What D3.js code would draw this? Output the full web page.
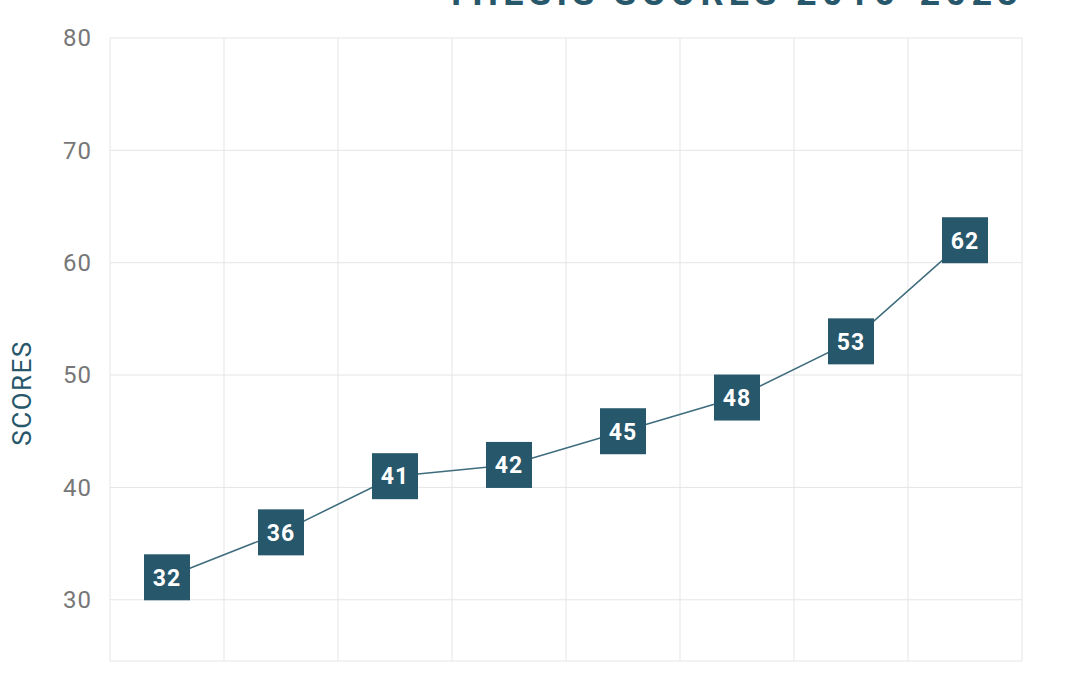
<!DOCTYPE html>
<html>
<head>
<meta charset="utf-8">
<script src="https://cdn.jsdelivr.net/npm/d3@7"></script>
<style>
  html, body { margin: 0; padding: 0; background: #ffffff; }
  svg { display: block; font-family: Roboto, "Noto Sans", sans-serif; }
</style>
</head>
<body>
<svg id="chart" width="1080" height="675"></svg>
<script>
const years = ["2016", "2017", "2018", "2019", "2020", "2021", "2022", "2023"];
const scores = [32, 36, 41, 42, 45, 48, 53, 62];
const yTicks = [30, 40, 50, 60, 70, 80];
const titleText = "THESIS SCORES 2016-2023";
const yLabel = "SCORES";

const W = 1080, H = 675;
const margin = { left: 110, right: 58, top: 38, bottom: 14 };
const svg = d3.select("#chart");

const x = d3.scaleBand().domain(years).range([margin.left, W - margin.right]).padding(0);
const y = d3.scaleLinear().domain([24.55, 80]).range([H - margin.bottom, margin.top]);

const main = "#27576b";
const grid = "#e5e5e5";

// grid: horizontal
svg.append("g")
  .selectAll("line")
  .data(yTicks)
  .join("line")
  .attr("x1", margin.left).attr("x2", W - margin.right)
  .attr("y1", d => y(d)).attr("y2", d => y(d))
  .attr("stroke", grid).attr("stroke-width", 1);

// bottom border
svg.append("line")
  .attr("x1", margin.left).attr("x2", W - margin.right)
  .attr("y1", y.range()[0]).attr("y2", y.range()[0])
  .attr("stroke", grid).attr("stroke-width", 1);

// grid: vertical (band edges)
const edges = years.map(d => x(d)).concat([x(years[years.length - 1]) + x.bandwidth()]);
svg.append("g")
  .selectAll("line")
  .data(edges)
  .join("line")
  .attr("x1", d => d).attr("x2", d => d)
  .attr("y1", y.range()[1]).attr("y2", y.range()[0])
  .attr("stroke", grid).attr("stroke-width", 1);

// y axis tick labels
const yAxis = d3.axisLeft(y).tickValues(yTicks).tickSize(0).tickPadding(18);
const gy = svg.append("g").attr("transform", `translate(${margin.left},0)`).call(yAxis);
gy.select(".domain").remove();
gy.selectAll("text")
  .attr("fill", "#777777")
  .style("font-size", "24px")
  .style("letter-spacing", "1px")
  .style("font-family", "Roboto, sans-serif");

// y axis title
svg.append("text")
  .attr("transform", `translate(31,${393}) rotate(-90)`)
  .attr("text-anchor", "middle")
  .attr("fill", main)
  .style("font-size", "26px")
  .style("letter-spacing", "1.5px")
  .text(yLabel);

// line
const cx = d => x(d) + x.bandwidth() / 2;
const line = d3.line().x((d, i) => cx(years[i])).y(d => y(d));
svg.append("path")
  .datum(scores)
  .attr("d", line)
  .attr("fill", "none")
  .attr("stroke", "#3f6d7e")
  .attr("stroke-width", 1.6);

// markers
const S = 46;
const pts = svg.append("g").selectAll("g")
  .data(scores)
  .join("g")
  .attr("transform", (d, i) => `translate(${cx(years[i])},${y(d)})`);
pts.append("rect")
  .attr("x", -S / 2).attr("y", -S / 2)
  .attr("width", S).attr("height", S)
  .attr("fill", main);
pts.append("text")
  .attr("text-anchor", "middle")
  .attr("dy", "0.36em")
  .attr("fill", "#ffffff")
  .style("font-size", "23px")
  .style("font-weight", "bold")
  .style("letter-spacing", "1px")
  .text(d => d);

// title (mostly clipped at top, as in the reference)
svg.append("text")
  .attr("x", 1018).attr("y", 5)
  .attr("text-anchor", "end")
  .attr("fill", main)
  .style("font-size", "36px")
  .style("font-weight", "bold")
  .attr("textLength", 573)
  .attr("lengthAdjust", "spacing")
  .text(titleText);
</script>
</body>
</html>
